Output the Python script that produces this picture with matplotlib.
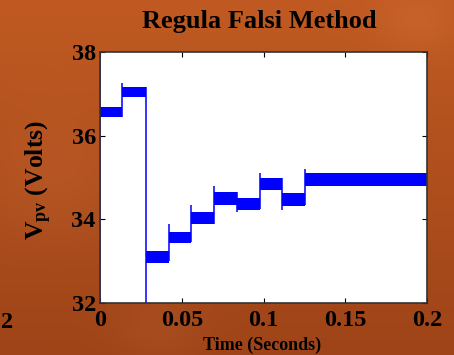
import numpy as np
import matplotlib
matplotlib.use("Agg")
import matplotlib.pyplot as plt

plt.rcParams["font.family"] = ["Liberation Serif", "DejaVu Serif"]
plt.rcParams["font.weight"] = "bold"
plt.rcParams["mathtext.fontset"] = "custom"
plt.rcParams["mathtext.rm"] = "Liberation Serif:bold"
plt.rcParams["mathtext.it"] = "Liberation Serif:bold"
plt.rcParams["mathtext.bf"] = "Liberation Serif:bold"

# Operating-point steps of the PV voltage under the regula falsi tracker
t_step = [0.0, 0.0135, 0.028, 0.042, 0.0557, 0.0697, 0.0838, 0.098, 0.1115, 0.1255]
t_end = 0.2
v_level = [36.56, 37.04, 33.10, 33.57, 34.03, 34.50, 34.36, 34.84, 34.47, 34.95]
v_ripple = [0.12, 0.12, 0.14, 0.13, 0.14, 0.15, 0.14, 0.14, 0.15, 0.155]
# extent of the transient at each step change
v_trans_lo = [31.5, 36.44, 31.5, 33.00, 33.45, 33.90, 34.17, 34.25, 34.22, 34.35]
v_trans_hi = [38.5, 37.25, 37.16, 33.90, 34.34, 34.80, 34.65, 35.10, 34.98, 35.20]

x_ticks = [0, 0.05, 0.1, 0.15, 0.2]
x_ticklabels = ["0", "0.05", "0.1", "0.15", "0.2"]
y_ticks = [32, 34, 36, 38]

W, H = 454, 355
fig = plt.figure(figsize=(W / 100, H / 100), dpi=100)

# orange backdrop
bg = fig.add_axes([0, 0, 1, 1], zorder=-10)
yy, xx = np.mgrid[0:1:200j, 0:1:260j]
top = np.array([192, 90, 34]) / 255
bot = np.array([158, 68, 24]) / 255
grad = top[None, None, :] * (1 - yy[..., None]) + bot[None, None, :] * yy[..., None]
glow = np.exp(-(((xx - 0.92) ** 2) / 0.008 + ((yy - 0.06) ** 2) / 0.008))
glow2 = np.exp(-(((xx - 0.12) ** 2) / 0.02 + ((yy - 0.5) ** 2) / 0.03))
glow3 = np.exp(-(((xx - 0.35) ** 2) / 0.01 + ((yy - 0.93) ** 2) / 0.01))
img = grad + 0.035 * glow[..., None] + 0.025 * glow2[..., None] + 0.025 * glow3[..., None]
bg.imshow(np.clip(img, 0, 1), aspect="auto", extent=[0, 1, 0, 1], interpolation="bilinear")
bg.axis("off")

ax = fig.add_axes([100 / W, 1 - 303 / H, 327 / W, 251 / H])
ax.set_facecolor("white")

blue = "#0000ff"
edges = t_step[1:] + [t_end]
for i, (t0, t1) in enumerate(zip(t_step, edges)):
    lv, rp = v_level[i], v_ripple[i]
    ax.fill_between([t0, t1], lv - rp, lv + rp, color=blue, lw=0, zorder=3)
    ax.vlines(t0, v_trans_lo[i], v_trans_hi[i], color=blue, lw=1.1, zorder=3)

ax.set_xlim(0, 0.2)
ax.set_ylim(32, 38)
ax.set_xticks(x_ticks)
ax.set_xticklabels(x_ticklabels)
ax.set_yticks(y_ticks)
ax.tick_params(direction="in", length=3.5, width=0.8, top=True, right=True,
               labelsize=17.5, pad=5, colors="black")
ax.tick_params(axis="y", pad=3)
for s in ax.spines.values():
    s.set_color("#333333")
    s.set_linewidth(1.2)
    s.set_zorder(5)

fig.text(259.5 / W, 1 - 28 / H, "Regula Falsi Method", ha="center", va="baseline",
         fontsize=19, fontweight="bold")
fig.text(262.5 / W, 1 - 345 / H, "Time (Seconds)", ha="center", va="center",
         fontsize=13, fontweight="bold")
fig.text(39 / W, 1 - 180 / H, r"$\mathrm{V_{pv}}$ (Volts)", ha="center", va="center",
         rotation=90, fontsize=18.5, fontweight="bold")
fig.text(13 / W, 1 - 322 / H, "2", ha="right", va="center", fontsize=17.5, fontweight="bold")

fig.savefig("out.png", dpi=100)
